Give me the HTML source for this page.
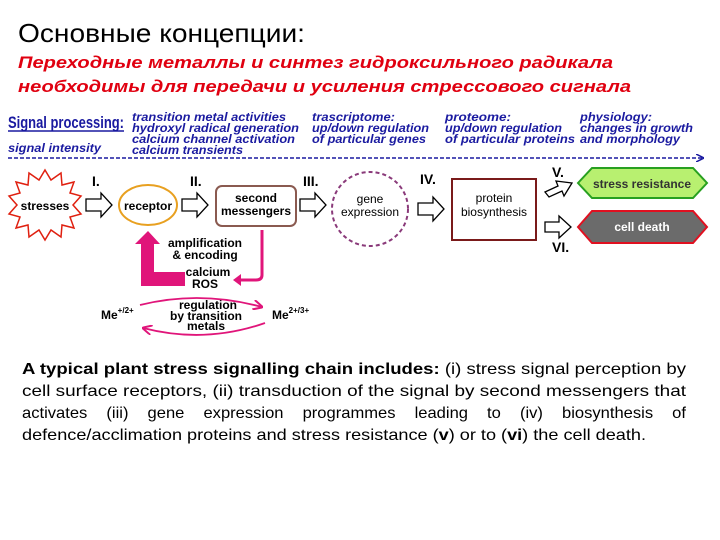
<!DOCTYPE html>
<html><head><meta charset="utf-8"><style>
html,body{margin:0;padding:0;background:#fff;}
svg{display:block}
.b{font-family:"Liberation Sans",sans-serif;font-weight:bold;}
.bl{font-family:"Liberation Sans",sans-serif;font-weight:bold;font-style:italic;fill:#1a1aa0;font-size:12px;}
</style></head><body>
<svg width="720" height="540" viewBox="0 0 720 540" xmlns="http://www.w3.org/2000/svg" font-family="Liberation Sans, sans-serif">
<defs>
<marker id="ah" markerWidth="8" markerHeight="8" refX="7" refY="4" orient="auto" markerUnits="userSpaceOnUse"><path d="M0,0 L8,4 L0,8" fill="none" stroke="#1a1aa0" stroke-width="1.5"/></marker>
<marker id="pk" markerWidth="10" markerHeight="10" refX="9" refY="5" orient="auto" markerUnits="userSpaceOnUse"><path d="M0,0 L10,5 L0,10" fill="none" stroke="#e0157a" stroke-width="2"/></marker>
</defs>
<text x="18" y="42" font-size="26" textLength="287" lengthAdjust="spacingAndGlyphs">Основные концепции:</text>
<text x="18" y="68" font-size="17" fill="#e00010" font-weight="bold" font-style="italic" textLength="595" lengthAdjust="spacingAndGlyphs">Переходные металлы и синтез гидроксильного радикала</text>
<text x="18" y="92" font-size="17" fill="#e00010" font-weight="bold" font-style="italic" textLength="613" lengthAdjust="spacingAndGlyphs">необходимы для передачи и усиления стрессового сигнала</text>

<text x="8" y="128" font-size="17" fill="#1a1aa0" font-weight="bold" textLength="116" lengthAdjust="spacingAndGlyphs">Signal processing:</text>
<line x1="8" y1="131" x2="124" y2="131" stroke="#1a1aa0" stroke-width="1.5"/>
<text class="bl" x="8" y="152" textLength="93" lengthAdjust="spacingAndGlyphs">signal intensity</text>
<text class="bl" x="132" y="121" textLength="154" lengthAdjust="spacingAndGlyphs">transition metal activities</text>
<text class="bl" x="132" y="132" textLength="167" lengthAdjust="spacingAndGlyphs">hydroxyl radical generation</text>
<text class="bl" x="132" y="143" textLength="163" lengthAdjust="spacingAndGlyphs">calcium channel activation</text>
<text class="bl" x="132" y="154" textLength="111" lengthAdjust="spacingAndGlyphs">calcium transients</text>
<text class="bl" x="312" y="121" textLength="83" lengthAdjust="spacingAndGlyphs">trascriptome:</text>
<text class="bl" x="312" y="132" textLength="117" lengthAdjust="spacingAndGlyphs">up/down regulation</text>
<text class="bl" x="312" y="143" textLength="114" lengthAdjust="spacingAndGlyphs">of particular genes</text>
<text class="bl" x="445" y="121" textLength="66" lengthAdjust="spacingAndGlyphs">proteome:</text>
<text class="bl" x="445" y="132" textLength="117" lengthAdjust="spacingAndGlyphs">up/down regulation</text>
<text class="bl" x="445" y="143" textLength="130" lengthAdjust="spacingAndGlyphs">of particular proteins</text>
<text class="bl" x="580" y="121" textLength="72" lengthAdjust="spacingAndGlyphs">physiology:</text>
<text class="bl" x="580" y="132" textLength="113" lengthAdjust="spacingAndGlyphs">changes in growth</text>
<text class="bl" x="580" y="143" textLength="100" lengthAdjust="spacingAndGlyphs">and morphology</text>
<line x1="8" y1="158" x2="703" y2="158" stroke="#1a1aa0" stroke-width="1.5" stroke-dasharray="4,2" marker-end="url(#ah)"/>

<polygon fill="#fff" stroke="#e02010" stroke-width="1.5" points="45,170 51,180 61,173 62,185 74,182 70,193 81,196 73,205 81,214 70,217 74,228 62,225 61,237 51,230 45,240 39,230 29,237 28,225 16,228 20,217 9,214 17,205 9,196 20,193 16,182 28,185 29,173 39,180"/>
<text x="45" y="210" font-size="12" class="b" text-anchor="middle">stresses</text>

<g fill="#fff" stroke="#000" stroke-width="1.3">
<path d="M86,199 H101 V193 L112,205 L101,217 V211 H86 Z"/>
<path d="M182,199 H197 V193 L208,205 L197,217 V211 H182 Z"/>
<path d="M300,199 H315 V193 L326,205 L315,217 V211 H300 Z"/>
<path d="M418,203 H433 V197 L444,209 L433,221 V215 H418 Z"/>
<path d="M545,192 L558,186 L556,181 L572,183 L564,196 L562,191 L549,197 Z"/>
<path d="M545,222 H559 V216 L571,227 L559,238 V232 H545 Z"/>
</g>
<text x="92" y="186" font-size="14" class="b">I.</text>
<text x="190" y="186" font-size="14" class="b">II.</text>
<text x="303" y="186" font-size="14" class="b">III.</text>
<text x="420" y="184" font-size="14" class="b">IV.</text>
<text x="552" y="177" font-size="14" class="b">V.</text>
<text x="552" y="252" font-size="14" class="b">VI.</text>

<ellipse cx="148" cy="205" rx="29" ry="20" fill="#fff" stroke="#e8a020" stroke-width="2"/>
<text x="148" y="210" font-size="12" class="b" text-anchor="middle">receptor</text>
<rect x="216" y="186" width="80" height="40" rx="6" fill="#fff" stroke="#8a5a50" stroke-width="2"/>
<text x="256" y="202" font-size="12" class="b" text-anchor="middle">second</text>
<text x="256" y="215" font-size="12" class="b" text-anchor="middle">messengers</text>
<ellipse cx="370" cy="209" rx="38" ry="37" fill="#fff" stroke="#8a3a7a" stroke-width="2" stroke-dasharray="4,3"/>
<text x="370" y="203" font-size="12" text-anchor="middle">gene</text>
<text x="370" y="216" font-size="12" text-anchor="middle">expression</text>
<rect x="452" y="179" width="84" height="61" fill="#fff" stroke="#7a1a1a" stroke-width="2"/>
<text x="494" y="202" font-size="12" text-anchor="middle">protein</text>
<text x="494" y="216" font-size="12" text-anchor="middle">biosynthesis</text>

<polygon points="578,183 592,168 693,168 707,183 693,198 592,198" fill="#b8f070" stroke="#28a020" stroke-width="2"/>
<text x="642" y="188" font-size="12" class="b" text-anchor="middle" fill="#333">stress resistance</text>
<polygon points="578,227 592,211 693,211 707,227 693,243 592,243" fill="#6b6b6b" stroke="#e01020" stroke-width="2"/>
<text x="642" y="231" font-size="12" class="b" text-anchor="middle" fill="#fff">cell death</text>

<path d="M148,231 L160,244 L154,244 L154,272 L185,272 L185,286 L141,286 L141,244 L135,244 Z" fill="#e0157a"/>
<path d="M262,230 V275 Q262,280 256,280 H236" fill="none" stroke="#e0157a" stroke-width="3"/>
<path d="M233,280 L241,274 L241,286 Z" fill="#e0157a"/>
<g font-size="12" class="b" text-anchor="middle">
<text x="205" y="247">amplification</text>
<text x="205" y="259">&amp; encoding</text>
<text x="208" y="276">calcium</text>
<text x="205" y="288">ROS</text>
<text x="208" y="309">regulation</text>
<text x="206" y="320">by transition</text>
<text x="206" y="330">metals</text>
</g>
<text x="101" y="319" font-size="12" class="b">Me<tspan font-size="8" dy="-6">+/2+</tspan></text>
<text x="272" y="319" font-size="12" class="b">Me<tspan font-size="8" dy="-6">2+/3+</tspan></text>
<path d="M140,305 Q200,290 262,307" fill="none" stroke="#e0157a" stroke-width="1.8" marker-end="url(#pk)"/>
<path d="M265,323 Q205,344 143,328" fill="none" stroke="#e0157a" stroke-width="1.8" marker-end="url(#pk)"/>

<g font-size="16">
<text x="22" y="374" textLength="664" lengthAdjust="spacingAndGlyphs"><tspan font-weight="bold">A typical plant stress signalling chain includes:</tspan> (i) stress signal perception by</text>
<text x="22" y="396" textLength="664" lengthAdjust="spacingAndGlyphs">cell surface receptors, (ii) transduction of the signal by second messengers that</text>
<text x="22" y="418" textLength="664" lengthAdjust="spacingAndGlyphs" word-spacing="14">activates (iii) gene expression programmes leading to (iv) biosynthesis of</text>
<text x="22" y="440" textLength="624" lengthAdjust="spacingAndGlyphs">defence/acclimation proteins and stress resistance (<tspan font-weight="bold">v</tspan>) or to (<tspan font-weight="bold">vi</tspan>) the cell death.</text>
</g>
</svg>
</body></html>
